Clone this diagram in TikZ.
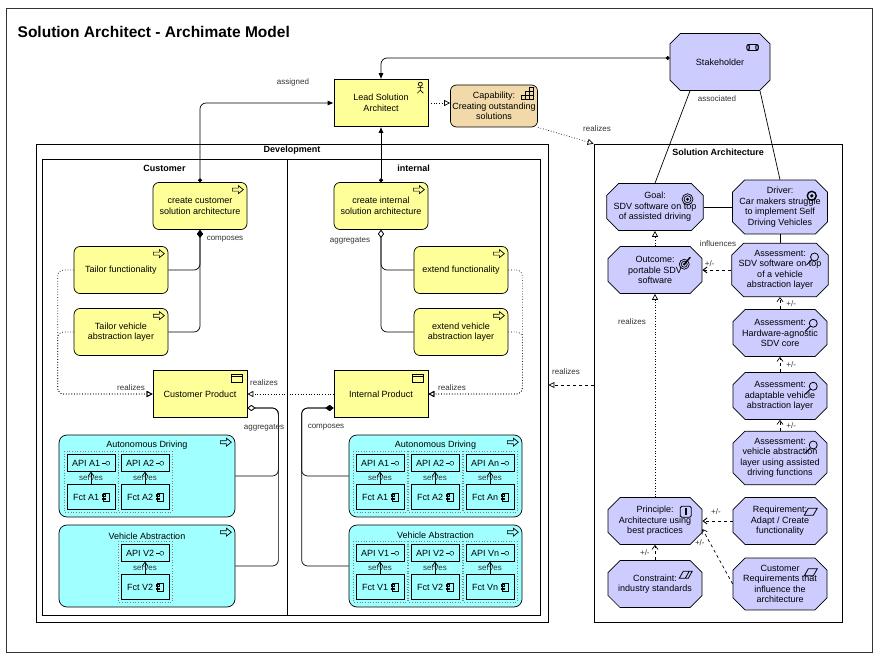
\documentclass[tikz,border=0pt]{standalone}
\usepackage{fontspec}
\setmainfont{Liberation Sans}
\usetikzlibrary{positioning, arrows.meta, shapes.misc, calc}

\definecolor{busyellow}{HTML}{FFFF99}
\definecolor{captan}{HTML}{F2D9A9}
\definecolor{motlav}{HTML}{CCCCFF}
\definecolor{appcyan}{HTML}{A0FFFF}

% --- small icons, drawn in the top right corner of a node ---
\newcommand{\procicon}[1]{\draw[shift={(#1.north east)}] (-15,6) -- (-9,6) -- (-9,3.5) -- (-4,7.5) -- (-9,11.5) -- (-9,9) -- (-15,9) -- cycle;}
\newcommand{\prodicon}[1]{\draw[shift={(#1.north east)}] (-16,4) rectangle (-5,12) (-16,6.5) -- (-5,6.5);}
\newcommand{\actoricon}[1]{\draw[shift={(#1.north east)}] (-8,5) circle (2) (-8,7) -- (-8,11) (-11,8.5) -- (-5,8.5) (-11,14) -- (-8,11) -- (-5,14);}
\newcommand{\capicon}[1]{\draw[shift={(#1.north east)}] (-17,15) rectangle (-5,11) (-13,15) -- (-13,7) -- (-5,7) (-9,15) -- (-9,3) -- (-5,3) -- (-5,15) (-17,11) -- (-17,15);}
\newcommand{\goalicon}[1]{\draw[shift={(#1.north east)}] (-10,10) circle (5.5) (-10,10) circle (3.5); \fill[shift={(#1.north east)}] (-10,10) circle (1.7);}
\newcommand{\drvicon}[1]{\draw[shift={(#1.north east)}, line width=1.4pt] (-10,10) circle (4.5); \fill[shift={(#1.north east)}] (-10,10) circle (1.8);}
\newcommand{\outicon}[1]{\draw[shift={(#1.north east)}] (-12,12) circle (5) (-12,12) circle (3); \fill[shift={(#1.north east)}] (-12,12) circle (1.3); \draw[shift={(#1.north east)}, line width=1.4pt] (-12,12) -- (-6,5);}
\newcommand{\assicon}[1]{\draw[shift={(#1.north east)}, line width=0.8pt] (-8,8) circle (4) (-11,11) -- (-16,16);}
\newcommand{\prinicon}[1]{\draw[shift={(#1.north east)}, rounded corners=1.5, line width=0.8pt] (-16,3) rectangle (-5,14); \draw[shift={(#1.north east)}, line width=1.5pt] (-10.5,5) -- (-10.5,12);}
\newcommand{\reqicon}[1]{\draw[shift={(#1.north east)}, line width=0.8pt] (-17,12) -- (-13,5) -- (-4,5) -- (-8,12) -- cycle;}
\newcommand{\consicon}[1]{\draw[shift={(#1.north east)}, line width=0.8pt] (-17,12) -- (-13,5) -- (-4,5) -- (-8,12) -- cycle (-11,12) -- (-7,5);}
\newcommand{\stakeicon}[1]{\draw[shift={(#1.north east)}] (-17,6) rectangle (-8,12) (-8,9) ellipse (1.5 and 3) (-17,9) ellipse (1.5 and 3);}
\newcommand{\lolli}{\tikz[baseline=-0.6ex]{\draw (0pt,0pt) -- (4pt,0pt); \draw (6pt,0pt) circle (2pt);}}
\newcommand{\compicon}{\tikz[baseline=0.2ex]{\draw (1.5pt,0pt) rectangle (7pt,8pt); \draw (0pt,1.5pt) rectangle (3pt,3pt) (0pt,5pt) rectangle (3pt,6.5pt);}}

% --- one function column: interface on top, function below ---
\newcommand{\fcell}[5]{%
  \draw[dotted, gray] (#2-27,#3-12) rectangle (#2+27,#3+49);
  \node[api] (api#1) at (#2,#3) {#4\,\lolli};
  \node[fct] (fct#1) at (#2,#3+34) {#5\ \compicon};
  \draw[serve] (fct#1) -- node[lbl, pos=0.45] {serves} (api#1);
}

\begin{document}
\begin{tikzpicture}[
    x=1pt, y=-1pt,
    line width=0.7pt,
    font=\fontsize{9}{10.5}\selectfont,
    busn/.style={rectangle, draw, fill=busyellow, minimum width=94pt, minimum height=47pt, align=center, inner sep=2pt},
    proc/.style={busn, rounded corners=6pt},
    motiv/.style={chamfered rectangle, chamfered rectangle xsep=6pt, chamfered rectangle ysep=6pt, draw, fill=motlav, minimum width=94pt, minimum height=47pt, align=center, inner sep=1pt},
    appgrp/.style={rectangle, draw, rounded corners=8pt, fill=appcyan},
    api/.style={rectangle, draw, fill=appcyan, minimum width=48pt, minimum height=17pt, inner sep=1pt},
    fct/.style={rectangle, draw, fill=appcyan, minimum width=48pt, minimum height=25pt, inner sep=1pt},
    frame/.style={rectangle, draw, line width=0.8pt},
    ftitle/.style={anchor=north, font=\fontsize{9}{10.5}\selectfont\bfseries, inner sep=1pt},
    lbl/.style={font=\fontsize{8}{9.5}\selectfont, inner sep=1pt, text=black!80},
    gtitle/.style={font=\fontsize{9}{10.5}\selectfont, inner sep=1pt},
    assign/.style={{Circle[length=4pt]}-{Latex[length=6pt,width=5pt]}, rounded corners=6pt},
    real/.style={dotted, -{Triangle[open, length=6pt, width=6pt]}, rounded corners=6pt},
    infl/.style={dashed, -{Straight Barb[length=4pt, width=6pt]}},
    serve/.style={-{Straight Barb[length=4pt, width=6pt]}},
    comp/.style={{Diamond[length=8pt, width=6pt]}-, rounded corners=6pt},
    aggr/.style={{Diamond[open, length=8pt, width=6pt, fill=white]}-, rounded corners=6pt}
]
    \useasboundingbox (0,0) rectangle (880,660);
    \draw[line width=0.8pt, black!80] (6,8) rectangle (872,652);
    \node[anchor=west, font=\fontsize{15.5}{18}\selectfont\bfseries] (title) at (14,32) {Solution Architect - Archimate Model};

    % --- Frames ---
    \node[frame, minimum width=512pt, minimum height=478pt] (dev) at (292,383) {};
    \node[ftitle] (devt) at (dev.north) {\strut Development};
    \node[frame, minimum width=245pt, minimum height=456pt] (cust) at (164.5,387) {};
    \node[ftitle] (custt) at ([yshift=-4pt]cust.north) {\strut Customer};
    \node[frame, minimum width=253pt, minimum height=456pt] (intl) at (413.5,387) {};
    \node[ftitle] (intlt) at ([yshift=-4pt]intl.north) {\strut internal};
    \node[frame, minimum width=248pt, minimum height=478pt] (sa) at (718,383) {};
    \node[ftitle] (sat) at ([yshift=-3pt]sa.north) {\strut Solution Architecture};

    % --- Business layer ---
    \node[busn] (lsa) at (381,103) {Lead Solution\\Architect};
    \actoricon{lsa}
    \node[busn, rounded corners=6pt, fill=captan, minimum width=85pt, minimum height=42pt] (cap) at (494,106) {Capability:\\Creating outstanding\\solutions};
    \capicon{cap}
    \node[motiv, minimum width=100pt, minimum height=57pt] (stake) at (720,62) {Stakeholder};
    \stakeicon{stake}

    \node[proc] (ccsa) at (200,206) {create customer\\solution architecture};
    \procicon{ccsa}
    \node[proc] (cisa) at (381,206) {create internal\\solution architecture};
    \procicon{cisa}
    \node[proc] (tf) at (121,270) {Tailor functionality};
    \procicon{tf}
    \node[proc] (tv) at (121,332) {Tailor vehicle\\abstraction layer};
    \procicon{tv}
    \node[proc] (ef) at (461,270) {extend functionality};
    \procicon{ef}
    \node[proc] (ev) at (461,332) {extend vehicle\\abstraction layer};
    \procicon{ev}
    \node[busn] (cp) at (200,394) {Customer Product};
    \prodicon{cp}
    \node[busn] (ip) at (381,394) {Internal Product};
    \prodicon{ip}

    % --- Application groups ---
    \node[appgrp, minimum width=176pt, minimum height=82pt] (cad) at (147,476) {};
    \node[gtitle] (cadt) at (cad.north |- 0,445) {Autonomous Driving};
    \procicon{cad}
    \fcell{ca1}{91}{463}{API A1}{Fct A1}
    \fcell{ca2}{145}{463}{API A2}{Fct A2}
    \node[appgrp, minimum width=176pt, minimum height=82pt] (cva) at (147,566) {};
    \node[gtitle] (cvat) at (cva.north |- 0,536) {Vehicle Abstraction};
    \procicon{cva}
    \fcell{cv2}{145}{553}{API V2}{Fct V2}

    \node[appgrp, minimum width=173pt, minimum height=82pt] (iad) at (435.5,476) {};
    \node[gtitle] (iadt) at (iad.north |- 0,445) {Autonomous Driving};
    \procicon{iad}
    \fcell{ia1}{380}{463}{API A1}{Fct A1}
    \fcell{ia2}{435}{463}{API A2}{Fct A2}
    \fcell{ian}{490}{463}{API An}{Fct An}
    \node[appgrp, minimum width=173pt, minimum height=82pt] (iva) at (435.5,566) {};
    \node[gtitle] (ivat) at (iva.north |- 0,535) {Vehicle Abstraction};
    \procicon{iva}
    \fcell{iv1}{380}{553}{API V1}{Fct V1}
    \fcell{iv2}{435}{553}{API V2}{Fct V2}
    \fcell{ivn}{490}{553}{API Vn}{Fct Vn}

    % --- Motivation elements ---
    \node[motiv] (goal) at (655,207) {Goal:\\SDV software on top\\of assisted driving};
    \goalicon{goal}
    \node[motiv] (drv) at (780,207) {Driver:\\Car makers struggle\\to implement Self\\Driving Vehicles};
    \drvicon{drv}
    \node[motiv] (out) at (655,270) {Outcome:\\portable SDV\\software};
    \outicon{out}
    \node[motiv] (as1) at (780,270) {Assessment:\\SDV software on top\\of a vehicle\\abstraction layer};
    \assicon{as1}
    \node[motiv] (as2) at (780,333) {Assessment:\\Hardware-agnostic\\SDV core};
    \assicon{as2}
    \node[motiv] (as3) at (780,396) {Assessment:\\adaptable vehicle\\abstraction layer};
    \assicon{as3}
    \node[motiv] (as4) at (780,458) {Assessment:\\vehicle abstraction\\layer using assisted\\driving functions};
    \assicon{as4}
    \node[motiv] (prin) at (655,521) {Principle:\\Architecture using\\best practices};
    \prinicon{prin}
    \node[motiv] (req) at (780,521) {Requirement:\\Adapt / Create\\functionality};
    \reqicon{req}
    \node[motiv] (cons) at (655,584) {Constraint:\\industry standards};
    \consicon{cons}
    \node[motiv] (creq) at (780,584) {Customer\\Requirements that\\influence the\\architecture};
    \reqicon{creq}

    % --- Relations: business ---
    \draw[assign] ([yshift=4pt]stake.west) -| (lsa.north);
    \draw[assign] (ccsa.north) |- (lsa.west);
    \node[lbl] (asgl) at (293,82) {assigned};
    \draw[assign] (cisa.north) -- (lsa.south);
    \draw[real] (lsa.east) -- (lsa.east -| cap.west);
    \draw[real] (cap.south east) -- (sa.north west);
    \node[lbl] (rl0) at (597,129) {realizes};

    \draw[comp] (ccsa.south) |- (tf.east);
    \draw[comp] (ccsa.south) |- (tv.east);
    \node[lbl] (compl) at (225,239) {composes};
    \draw[aggr] (cisa.south) |- (ef.west);
    \draw[aggr] (cisa.south) |- (ev.west);
    \node[lbl] (aggl) at (350,241) {aggregates};

    \draw[real] (tf.west) -- ++(-16,0) |- (cp.west);
    \draw[real] (tv.west) -- ++(-16,0) |- (cp.west);
    \node[lbl] (rl1) at (131,388) {realizes};
    \draw[real] (ef.east) -- ++(14,0) |- (ip.east);
    \draw[real] (ev.east) -- ++(14,0) |- (ip.east);
    \node[lbl] (rl2) at (452,388) {realizes};
    \draw[real] (ip.west) -- (cp.east);
    \node[lbl] (rl3) at (264,383) {realizes};
    \draw[real, dashed] (sa.west |- 0,385) -- (dev.east |- 0,385);
    \node[lbl] (rl4) at (566,372) {realizes};

    \draw[aggr] ([yshift=-14pt]cp.east) -- ++(31,0) |- (cad.east);
    \draw[aggr] ([yshift=-14pt]cp.east) -- ++(31,0) |- (cva.east);
    \node[lbl] (aggl2) at (264,428) {aggregates};
    \draw[comp] ([yshift=-14pt]ip.west) -- ++(-32,0) |- (iad.west);
    \draw[comp] ([yshift=-14pt]ip.west) -- ++(-32,0) |- (iva.west);
    \node[lbl] (compl2) at (326,427) {composes};

    % --- Relations: motivation ---
    \draw ([xshift=-30pt]stake.south) -- (goal.north);
    \draw ([xshift=40pt]stake.south) -- (drv.north);
    \node[lbl] (assl) at (717,99) {associated};
    \draw (goal.east) -- (drv.west);
    \draw (drv.south) -- (as1.north);
    \draw[infl, line width=0.9pt] (as1.west) -- node[lbl, pos=0.75, above=2pt] {+/-} (out.east);
    \node[lbl] (infll) at (718,244) {influences};
    \draw[real] (out.north) -- (goal.south);
    \draw[real] (prin.north) -- (out.south);
    \node[lbl] (rl5) at (632,322) {realizes};
    \draw[infl] (as2.north) -- node[lbl, right=5pt] {+/-} (as1.south);
    \draw[infl] (as3.north) -- node[lbl, right=5pt] {+/-} (as2.south);
    \draw[infl] (as4.north) -- node[lbl, right=5pt] {+/-} (as3.south);
    \draw[infl, line width=0.9pt] (req.west) -- node[lbl, pos=0.55, above=5pt] {+/-} (prin.east);
    \draw[infl] (creq.west) -- node[lbl, pos=0.75, left=4pt] {+/-} ([yshift=-8pt]prin.east);
    \draw[infl] (cons.north) -- node[lbl, left=4pt] {+/-} (prin.south);
\end{tikzpicture}
\end{document}
